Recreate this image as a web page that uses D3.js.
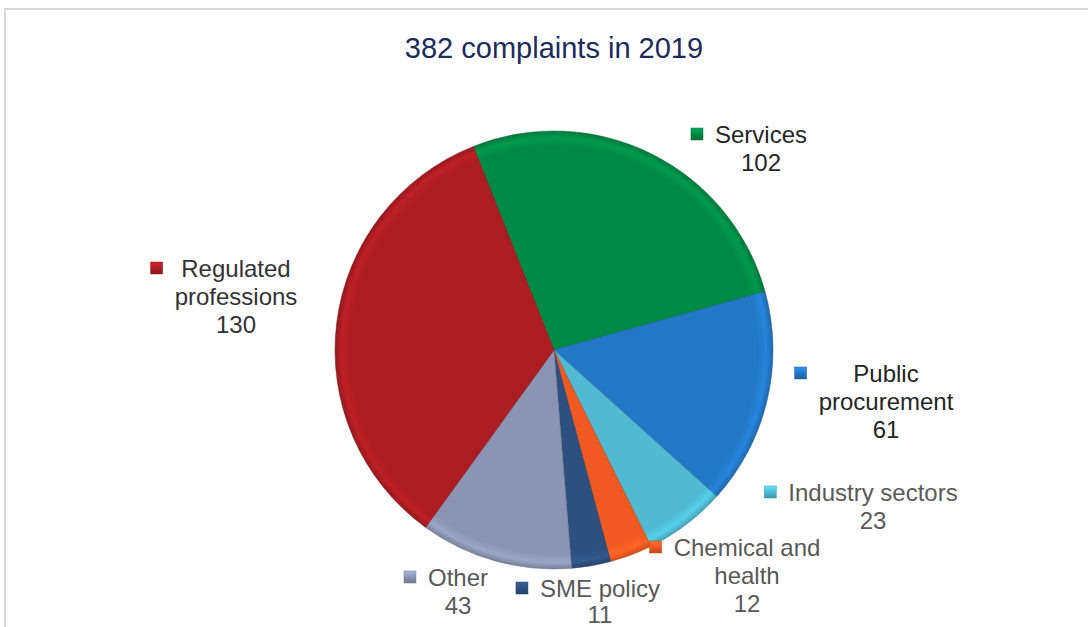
<!DOCTYPE html>
<html><head><meta charset="utf-8">
<script src="https://cdn.jsdelivr.net/npm/d3@7"></script>
<style>html,body{margin:0;padding:0;background:#fff;}svg{display:block;font-family:"Liberation Sans",Arial,sans-serif;}</style>
</head><body>
<svg id="chart" width="1088" height="627"></svg>
<script>
const title = "382 complaints in 2019";
const categories = ["Services","Public procurement","Industry sectors","Chemical and health","SME policy","Other","Regulated professions"];
const values = [102, 61, 23, 12, 11, 43, 130];
const labelLines = [["Services"],["Public","procurement"],["Industry sectors"],["Chemical and","health"],["SME policy"],["Other"],["Regulated","professions"]];
const colors = ["#008a45","#2278c6","#4fbad2","#f05a22","#2d5080","#8b94b2","#ab1d23"];
const textColors = ["#262626","#262626","#595959","#595959","#595959","#595959","#333333"];
// label anchors: center x of text block, center y of first line
const labelPos = [[761,134],[886,373],[873,492],[747,547],[600,588],[458,577],[236,268]];

const svg = d3.select("#chart");
const W = 1088, H = 627;
const cx = 554, cy = 350, R = 219;
const startDeg = -21.6;

// frame
svg.append("path").attr("d", `M5,${H+5} L5,9 L${W+5},9`).attr("fill","none").attr("stroke","#d9d9d9").attr("stroke-width",2);

svg.append("text").attr("x",554).attr("y",48).attr("text-anchor","middle").attr("dominant-baseline","central")
  .attr("font-size",29).attr("fill","#1d2a5e").text(title);

const defs = svg.append("defs");
colors.forEach((c,i)=>{
  const g = defs.append("radialGradient").attr("id","g"+i).attr("gradientUnits","userSpaceOnUse")
    .attr("cx",0).attr("cy",0).attr("r",R);
  const col = d3.color(c);
  g.append("stop").attr("offset","0%").attr("stop-color",c);
  g.append("stop").attr("offset","93%").attr("stop-color",c);
  g.append("stop").attr("offset","97%").attr("stop-color",col.brighter(0.3));
  g.append("stop").attr("offset","100%").attr("stop-color",col.darker(0.4));
  const m = defs.append("linearGradient").attr("id","m"+i).attr("x1","0").attr("y1","0").attr("x2","0").attr("y2","1");
  m.append("stop").attr("offset","0%").attr("stop-color",col.brighter(0.6));
  m.append("stop").attr("offset","50%").attr("stop-color",c);
  m.append("stop").attr("offset","100%").attr("stop-color",col.darker(0.6));
});

const pie = d3.pie().sort(null).value(d=>d)
  .startAngle(startDeg*Math.PI/180).endAngle(startDeg*Math.PI/180 + 2*Math.PI);
const arcs = pie(values);
const arc = d3.arc().innerRadius(0).outerRadius(R);

const gp = svg.append("g").attr("transform",`translate(${cx},${cy})`);
gp.selectAll("path").data(arcs).enter().append("path")
  .attr("d",arc).attr("fill",(d,i)=>`url(#g${i})`)
  .attr("stroke",(d,i)=>d3.color(colors[i]).darker(0.8)).attr("stroke-width",1).attr("stroke-opacity",0.5);

// labels
const lg = svg.append("g");
categories.forEach((cat,i)=>{
  const [x,y] = labelPos[i];
  const lines = labelLines[i].concat([String(values[i])]);
  const t = lg.append("text").attr("font-size",24).attr("fill",textColors[i]).attr("text-anchor","middle");
  const spans = lines.map((ln,k)=> t.append("tspan").attr("x",x).attr("y",y + k*(i===4?26:28)).attr("dominant-baseline","central").text(ln));
  let maxW = 0;
  spans.forEach(s=>{ maxW = Math.max(maxW, s.node().getComputedTextLength()); });
  const left = x - maxW/2;
  lg.append("rect").attr("x",left-12-12).attr("y",y-6).attr("width",12).attr("height",12)
    .attr("fill",`url(#m${i})`).attr("stroke",d3.color(colors[i]).darker(0.5)).attr("stroke-width",0.5);
});
</script>
</body></html>
